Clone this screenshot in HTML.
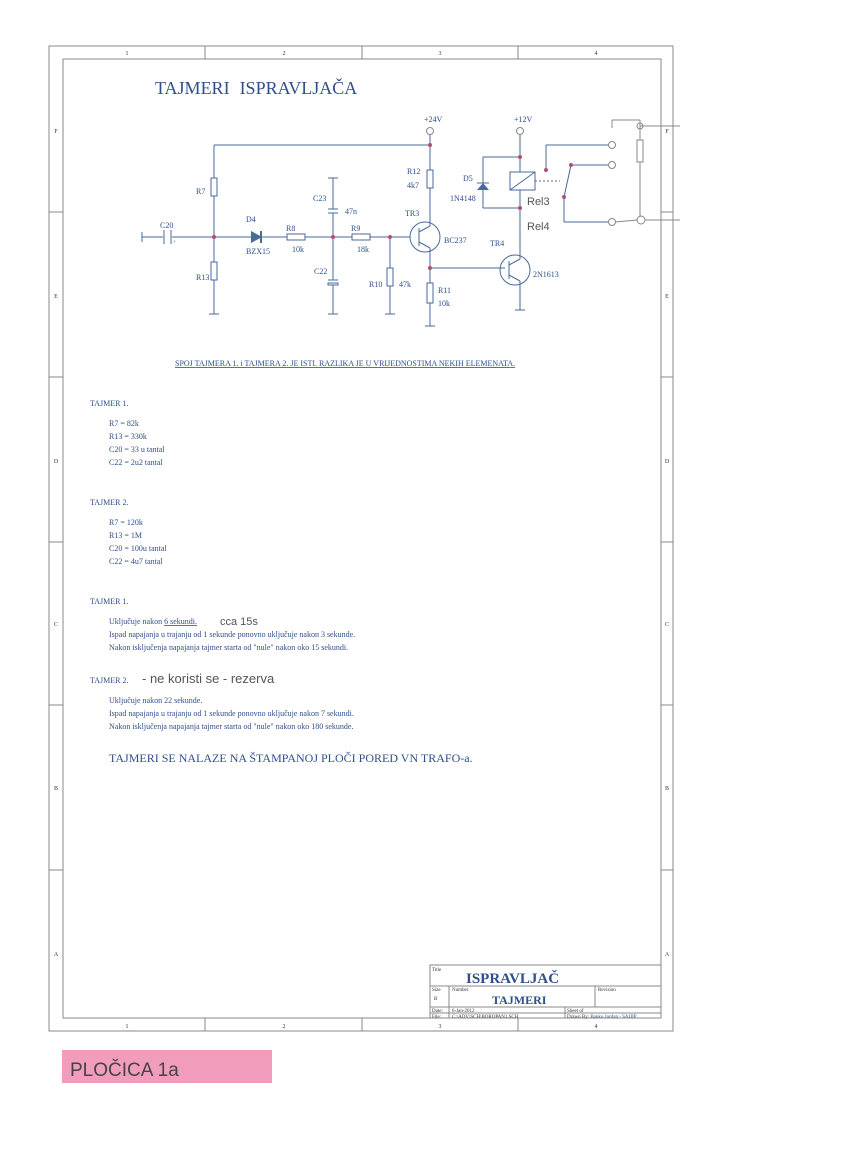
<!DOCTYPE html>
<html><head><meta charset="utf-8"><style>
body{margin:0;background:#fff;width:850px;height:1170px;overflow:hidden;font-family:"Liberation Serif",serif}
svg{position:absolute;left:0;top:0}
</style></head><body>
<svg width="850" height="1170" viewBox="0 0 850 1170" xmlns="http://www.w3.org/2000/svg" font-family="Liberation Serif, serif">
<g fill="none" stroke="#888" stroke-width="1">
<rect x="49" y="46" width="624" height="985"/>
<rect x="63" y="59" width="598" height="959"/>
<line x1="205" y1="46" x2="205" y2="59"/><line x1="362" y1="46" x2="362" y2="59"/><line x1="518" y1="46" x2="518" y2="59"/>
<line x1="205" y1="1018" x2="205" y2="1031"/><line x1="362" y1="1018" x2="362" y2="1031"/><line x1="518" y1="1018" x2="518" y2="1031"/>
<line x1="49" y1="212" x2="63" y2="212"/><line x1="49" y1="377" x2="63" y2="377"/><line x1="49" y1="542" x2="63" y2="542"/><line x1="49" y1="705" x2="63" y2="705"/><line x1="49" y1="870" x2="63" y2="870"/>
<line x1="661" y1="212" x2="673" y2="212"/><line x1="661" y1="377" x2="673" y2="377"/><line x1="661" y1="542" x2="673" y2="542"/><line x1="661" y1="705" x2="673" y2="705"/><line x1="661" y1="870" x2="673" y2="870"/>
</g>
<g font-size="6" fill="#333" text-anchor="middle">
<text x="127" y="55">1</text><text x="284" y="55">2</text><text x="440" y="55">3</text><text x="596" y="55">4</text>
<text x="127" y="1028">1</text><text x="284" y="1028">2</text><text x="440" y="1028">3</text><text x="596" y="1028">4</text>
<text x="56" y="133">F</text><text x="56" y="298">E</text><text x="56" y="463">D</text><text x="56" y="626">C</text><text x="56" y="790">B</text><text x="56" y="956">A</text>
<text x="667" y="133">F</text><text x="667" y="298">E</text><text x="667" y="463">D</text><text x="667" y="626">C</text><text x="667" y="790">B</text><text x="667" y="956">A</text>
</g>
<text x="155" y="94" font-size="18" fill="#2f4f8a">TAJMERI<tspan dx="10">ISPRAVLJAČA</tspan></text>

<g stroke="#4a6a9a" stroke-width="1" fill="none">
<line x1="142" y1="237" x2="163" y2="237"/><line x1="172" y1="237" x2="251" y2="237"/>
<line x1="262" y1="237" x2="287" y2="237"/><line x1="305" y1="237" x2="352" y2="237"/>
<line x1="370" y1="237" x2="410" y2="237"/>
<line x1="142" y1="232" x2="142" y2="242"/>
<line x1="214" y1="145" x2="430" y2="145"/>
<line x1="214" y1="145" x2="214" y2="178"/><rect x="211" y="178" width="6" height="18"/><line x1="214" y1="196" x2="214" y2="262"/>
<rect x="211" y="262" width="6" height="18"/><line x1="214" y1="280" x2="214" y2="314"/><line x1="209" y1="314" x2="219" y2="314"/>
<line x1="164" y1="230" x2="164" y2="244"/><line x1="171" y1="230" x2="171" y2="244"/>
<rect x="287" y="234" width="18" height="6"/><rect x="352" y="234" width="18" height="6"/>
<line x1="333" y1="178" x2="333" y2="209"/><line x1="328" y1="178" x2="338" y2="178"/>
<line x1="328" y1="209" x2="338" y2="209"/><line x1="328" y1="213" x2="338" y2="213"/><line x1="333" y1="213" x2="333" y2="280"/>
<line x1="328" y1="280" x2="338" y2="280"/><rect x="328" y="283" width="10" height="2"/><line x1="333" y1="285" x2="333" y2="314"/><line x1="328" y1="314" x2="338" y2="314"/>
<line x1="390" y1="237" x2="390" y2="268"/><rect x="387" y="268" width="6" height="18"/><line x1="390" y1="286" x2="390" y2="314"/><line x1="385" y1="314" x2="395" y2="314"/>
<line x1="430" y1="135" x2="430" y2="170"/><rect x="427" y="170" width="6" height="18"/><line x1="430" y1="188" x2="430" y2="226"/>
<circle cx="425" cy="237" r="15"/><line x1="419" y1="228" x2="419" y2="246"/><line x1="419" y1="232" x2="430" y2="226"/><line x1="419" y1="242" x2="430" y2="248"/>
<line x1="430" y1="248" x2="430" y2="283"/><line x1="430" y1="268" x2="505" y2="268"/>
<rect x="427" y="283" width="6" height="20"/><line x1="430" y1="303" x2="430" y2="326"/><line x1="425" y1="326" x2="435" y2="326"/>
<circle cx="515" cy="270" r="15"/><line x1="509" y1="261" x2="509" y2="279"/><line x1="509" y1="265" x2="520" y2="259"/><line x1="509" y1="275" x2="520" y2="281"/>
<line x1="520" y1="135" x2="520" y2="172"/><rect x="510" y="172" width="25" height="18"/><line x1="510" y1="190" x2="535" y2="172"/>
<line x1="520" y1="190" x2="520" y2="259"/><line x1="520" y1="281" x2="520" y2="310"/><line x1="515" y1="310" x2="525" y2="310"/>
<line x1="483" y1="157" x2="520" y2="157"/><line x1="483" y1="157" x2="483" y2="208"/><line x1="483" y1="208" x2="520" y2="208"/>
<line x1="477" y1="183" x2="489" y2="183"/>
<line x1="535" y1="181" x2="560" y2="181" stroke-dasharray="2,2"/>
<line x1="546" y1="145" x2="609" y2="145"/><line x1="546" y1="145" x2="546" y2="170"/>
<line x1="571" y1="165" x2="609" y2="165"/><line x1="571" y1="165" x2="564" y2="197"/>
<line x1="564" y1="197" x2="564" y2="222"/><line x1="564" y1="222" x2="609" y2="222"/>
</g>
<g fill="#4a6a9a"><polygon points="251,231 251,243 262,237"/><rect x="260" y="231" width="2" height="12"/>
<polygon points="477,190 489,190 483,183"/></g>
<g fill="none" stroke="#888" stroke-width="1">
<circle cx="430" cy="131" r="3.5"/><circle cx="520" cy="131" r="3.5"/>
<circle cx="612" cy="145" r="3.5"/><circle cx="612" cy="165" r="3.5"/><circle cx="612" cy="222" r="3.5"/>
<path d="M612,120 L612,128 M612,120 L640,120 M640,120 L640,140"/><rect x="637" y="140" width="6" height="22"/><line x1="640" y1="162" x2="640" y2="217"/>
<circle cx="640" cy="126" r="3"/><circle cx="641" cy="220" r="4"/><line x1="615" y1="222" x2="637" y2="220"/>
<line x1="640" y1="126" x2="680" y2="126"/><line x1="645" y1="220" x2="680" y2="220"/>
</g>
<g fill="#b05070"><circle cx="214" cy="237" r="2"/><circle cx="333" cy="237" r="2"/><circle cx="390" cy="237" r="2"/><circle cx="430" cy="145" r="2"/><circle cx="430" cy="268" r="2"/><circle cx="520" cy="157" r="2"/><circle cx="520" cy="208" r="2"/><circle cx="546" cy="170" r="2"/><circle cx="571" cy="165" r="2"/><circle cx="564" cy="197" r="2"/></g>
<g font-size="8" fill="#2f4f8a">
<text x="424" y="122">+24V</text><text x="514" y="122">+12V</text>
<text x="196" y="194">R7</text><text x="196" y="280">R13</text><text x="160" y="228">C20</text><text x="173" y="243" font-size="5">+</text>
<text x="246" y="222">D4</text><text x="246" y="254">BZX15</text><text x="286" y="231">R8</text><text x="292" y="252">10k</text>
<text x="313" y="201">C23</text><text x="345" y="214">47n</text><text x="314" y="274">C22</text>
<text x="351" y="231">R9</text><text x="357" y="252">18k</text><text x="369" y="287">R10</text><text x="399" y="287">47k</text>
<text x="407" y="174">R12</text><text x="407" y="188">4k7</text><text x="405" y="216">TR3</text><text x="444" y="243">BC237</text>
<text x="438" y="293">R11</text><text x="438" y="306">10k</text><text x="490" y="246">TR4</text><text x="533" y="277">2N1613</text>
<text x="463" y="181">D5</text><text x="450" y="201">1N4148</text>
</g>
<g font-family="Liberation Sans, sans-serif" font-size="11" fill="#555"><text x="527" y="205">Rel3</text><text x="527" y="230">Rel4</text></g>

<g font-size="8" fill="#2f4f8a">
<text x="175" y="366" text-decoration="underline">SPOJ TAJMERA 1.  i  TAJMERA 2. JE ISTI.  RAZLIKA JE U VRIJEDNOSTIMA NEKIH ELEMENATA.</text>
<text x="90" y="406">TAJMER 1.</text>
<text x="109" y="426">R7 = 82k</text><text x="109" y="439">R13 = 330k</text><text x="109" y="452">C20 = 33 u   tantal</text><text x="109" y="465">C22 = 2u2    tantal</text>
<text x="90" y="505">TAJMER 2.</text>
<text x="109" y="525">R7 = 120k</text><text x="109" y="538">R13 = 1M</text><text x="109" y="551">C20 = 100u   tantal</text><text x="109" y="564">C22 = 4u7   tantal</text>
<text x="90" y="604">TAJMER 1.</text>
<text x="109" y="624">Uključuje nakon <tspan text-decoration="underline">6 sekundi.</tspan></text>
<text x="109" y="637">Ispad napajanja u trajanju od 1 sekunde ponovno uključuje nakon 3 sekunde.</text>
<text x="109" y="650">Nakon isključenja napajanja tajmer starta od "nule" nakon oko 15 sekundi.</text>
<text x="90" y="683">TAJMER 2.</text>
<text x="109" y="703">Uključuje nakon 22 sekunde.</text>
<text x="109" y="716">Ispad napajanja u trajanju od 1 sekunde ponovno uključuje nakon 7 sekundi.</text>
<text x="109" y="729">Nakon isključenja napajanja tajmer starta od "nule" nakon oko 180 sekunde.</text>
</g>
<text x="109" y="762" font-size="12" fill="#2f4f8a">TAJMERI SE NALAZE NA ŠTAMPANOJ PLOČI PORED VN TRAFO-a.</text>
<g font-family="Liberation Sans, sans-serif" fill="#555"><text x="220" y="625" font-size="11">cca 15s</text><text x="142" y="683" font-size="13">- ne koristi se - rezerva</text></g>

<g fill="none" stroke="#888" stroke-width="1">
<rect x="430" y="965" width="231" height="53"/>
<line x1="430" y1="986" x2="661" y2="986"/><line x1="430" y1="1007" x2="661" y2="1007"/><line x1="430" y1="1013" x2="661" y2="1013"/>
<line x1="449" y1="986" x2="449" y2="1018"/><line x1="595" y1="986" x2="595" y2="1007"/><line x1="565" y1="1007" x2="565" y2="1018"/>
</g>
<g font-size="5" fill="#333"><text x="432" y="971">Title</text><text x="432" y="991">Size</text><text x="452" y="991">Number</text><text x="598" y="991">Revision</text><text x="434" y="1000">B</text>
<text x="432" y="1012">Date:</text><text x="452" y="1012">6-Jan-2012</text><text x="567" y="1012">Sheet    of</text>
<text x="432" y="1018">File:</text><text x="452" y="1018">C:\ADV\SCH\BOROPAN1.SCH</text><text x="567" y="1018">Drawn By:  <tspan fill="#2f4f8a">Banko Jordan - SAIJIP</tspan></text></g>
<text x="466" y="983" font-size="15" font-weight="bold" fill="#2f4f8a">ISPRAVLJAČ</text>
<text x="492" y="1004" font-size="12" font-weight="bold" fill="#2f4f8a">TAJMERI</text>

<rect x="62" y="1050" width="210" height="33" fill="#f29cbd"/>
<text x="70" y="1076" font-family="Liberation Sans, sans-serif" font-size="19" fill="#444">PLOČICA  1a</text>
</svg>
</body></html>
